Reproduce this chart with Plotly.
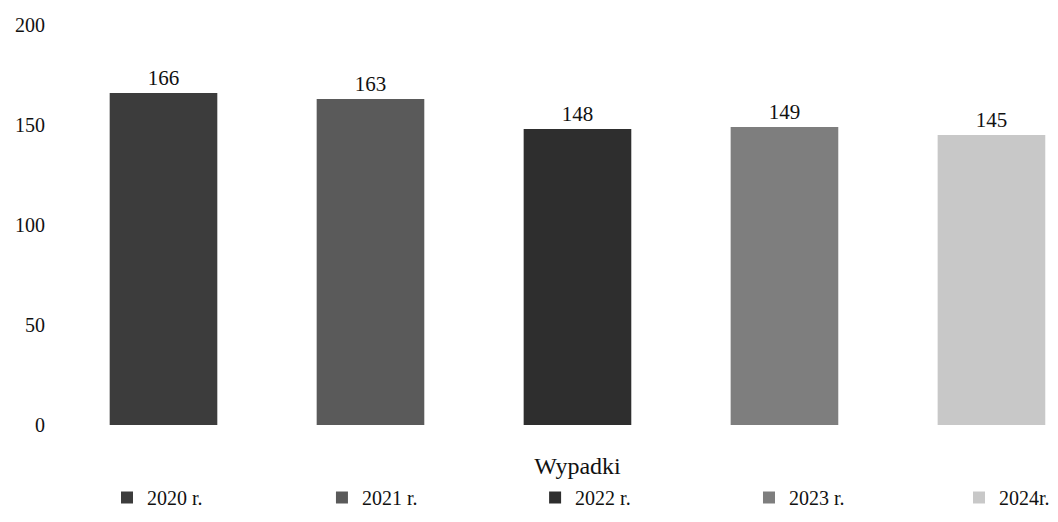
import plotly.graph_objects as go

category = ["Wypadki"]
years = ["2020 r.", "2021 r.", "2022 r.", "2023 r.", "2024r."]
values = [166, 163, 148, 149, 145]
colors = ["#3c3c3c", "#5a5a5a", "#2e2e2e", "#7e7e7e", "#c8c8c8"]
y_ticks = [0, 50, 100, 150, 200]

FONT = "Liberation Serif, Times New Roman, serif"
W, H = 1050, 514  # page body adds an 8px margin around the figure

legend_names = ["legend", "legend2", "legend3", "legend4", "legend5"]
legend_x = [0.0943, 0.299, 0.502, 0.7057, 0.9057]

fig = go.Figure()
for yr, v, c, lg in zip(years, values, colors, legend_names):
    fig.add_trace(go.Bar(
        name=yr, x=category, y=[v],
        marker=dict(color=c, line=dict(width=0)),
        text=[str(v)], textposition="outside",
        textfont=dict(family=FONT, size=21, color="#111111"),
        cliponaxis=False, legend=lg,
    ))

layout_legends = {}
for lg, lx in zip(legend_names, legend_x):
    layout_legends[lg] = dict(
        xref="container", yref="container",
        x=lx, xanchor="left", y=0.0856, yanchor="top",
        orientation="h", bgcolor="rgba(0,0,0,0)",
        font=dict(family=FONT, size=20, color="#111111"),
    )

fig.update_layout(
    width=W, height=H,
    paper_bgcolor="white", plot_bgcolor="white",
    barmode="group", bargap=0.0, bargroupgap=0.48,
    margin=dict(l=52, r=0, t=17, b=97, autoexpand=False),
    font=dict(family=FONT, size=20, color="#111111"),
    showlegend=True,
    xaxis=dict(
        range=[-0.5, 0.4643], showline=False, showgrid=False, zeroline=False,
        ticks="", ticklabelstandoff=24,
        tickfont=dict(family=FONT, size=24, color="#111111"),
        fixedrange=True,
    ),
    yaxis=dict(
        range=[0, 200], tickvals=y_ticks, showline=False, showgrid=False,
        zeroline=False, ticks="", ticklabelstandoff=14,
        tickfont=dict(family=FONT, size=20, color="#111111"),
    ),
    **layout_legends,
)

fig.write_html("out.html")
